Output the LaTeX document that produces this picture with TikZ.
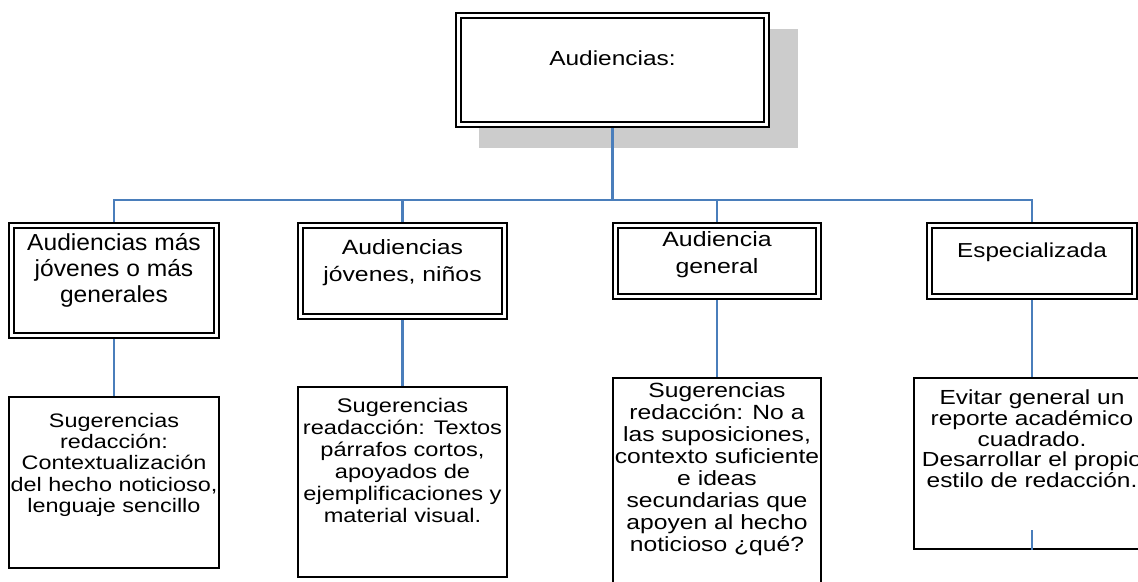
\documentclass[tikz,border=0pt]{standalone}
\usepackage{fontspec}
\setmainfont{Liberation Sans}[FakeStretch=1.2]
\newfontfamily\tallsans{Liberation Sans}[FakeStretch=1.06]
\usetikzlibrary{backgrounds,calc}
\definecolor{lineblue}{RGB}{74,126,187}
\definecolor{shadowgray}{RGB}{204,204,204}
\newcommand{\boxtext}[2]{\raisebox{#1}[0pt][0pt]{\begin{tabular}{@{}c@{}}#2\end{tabular}}}
\tikzset{
  dbox/.style={draw=black, double=white, line width=1.1pt, double distance=1.5pt, fill=white, inner sep=0pt},
  sbox/.style={draw=black, line width=1.1pt, fill=white, inner sep=0pt},
  conn/.style={color=lineblue, line width=1.3pt}
}

\begin{document}
\begin{tikzpicture}[line cap=butt,line join=miter,x=0.02cm,y=-0.02cm]
\useasboundingbox (0,0) rectangle (1138,581);
\clip (0,0) rectangle (1138,581);
% top
\node[dbox, minimum width=6.17cm, minimum height=2.19cm, font=\fontsize{11.6}{14}\selectfont] (aud) at (612.5,70) {\boxtext{2.3pt}{Audiencias:}};
% second row
\node[dbox, minimum width=4.11cm, minimum height=2.21cm, font=\tallsans\fontsize{13.2}{15}\selectfont] (b1) at (114,280.5) {\boxtext{2.2pt}{Audiencias más\\ jóvenes o más\\ generales}};
\node[dbox, minimum width=4.09cm, minimum height=1.83cm, font=\fontsize{11.75}{15}\selectfont] (b2) at (402.5,271) {\boxtext{1.7pt}{Audiencias\\ jóvenes, niños}};
\node[dbox, minimum width=4.07cm, minimum height=1.43cm, font=\fontsize{11.8}{15.5}\selectfont] (b3) at (717,261) {\boxtext{0.8pt}{Audiencia\\ general}};
\node[dbox, minimum width=4.11cm, minimum height=1.43cm, font=\fontsize{11.5}{14}\selectfont] (b4) at (1032,261) {\boxtext{1.7pt}{Especializada}};
% third row
\node[sbox, minimum width=4.2cm, minimum height=3.42cm, font=\fontsize{11.1}{12}\selectfont] (sa) at (114,482.5) {\boxtext{6.8pt}{Sugerencias\\ redacción:\\ Contextualización\\ del hecho noticioso,\\ lenguaje sencillo}};
\node[sbox, minimum width=4.18cm, minimum height=3.8cm, font=\fontsize{11.2}{12.5}\selectfont] (sb) at (402.5,482) {\boxtext{7.9pt}{Sugerencias\\ readacción: Textos\\ párrafos cortos,\\ apoyados de\\ ejemplificaciones y\\ material visual.}};
\node[sbox, minimum width=4.16cm, minimum height=4.44cm, font=\fontsize{11.7}{12.5}\selectfont] (sc) at (717,489) {\boxtext{7.8pt}{Sugerencias\\ redacción: No a\\ las suposiciones,\\ contexto suficiente\\ e ideas\\ secundarias que\\ apoyen al hecho\\ noticioso ¿qué?}};
\node[sbox, minimum width=4.72cm, minimum height=3.42cm, font=\fontsize{11.6}{11.5}\selectfont] (sd) at (1032,463.5) {\boxtext{9.4pt}{Evitar general un\\ reporte académico\\ cuadrado.\\ Desarrollar el propio\\ estilo de redacción.}};
\coordinate (bar) at (612,200);
\coordinate (tick) at (1032,530);
\begin{pgfonlayer}{background}
\fill[shadowgray] ([shift={(22,22)}]aud.south west) rectangle ([shift={(30,15)}]aud.north east);
\draw[conn] (aud.south) -- (aud.south |- bar);
\draw[conn] (b1.north) |- (b4.north |- bar) -- (b4.north);
\draw[conn] (b2.north) -- (b2.north |- bar);
\draw[conn] (b3.north) -- (b3.north |- bar);
\foreach \u/\l in {b1/sa,b2/sb,b3/sc,b4/sd}
  \draw[conn] (\u.south) -- (\l.north);
\end{pgfonlayer}
\draw[conn] (sd.south) -- (tick);
\end{tikzpicture}
\end{document}
